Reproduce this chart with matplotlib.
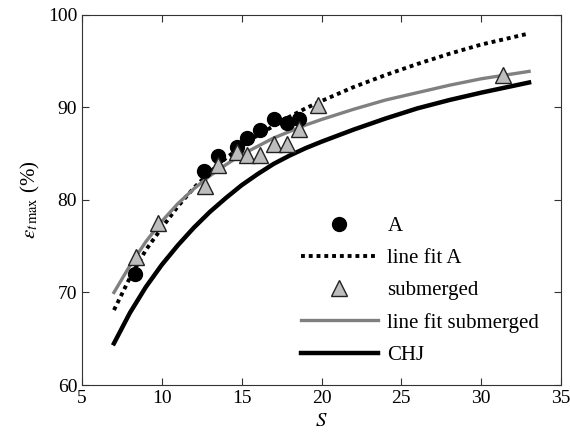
import numpy as np
import matplotlib
matplotlib.use('Agg')
import matplotlib.pyplot as plt

plt.rcParams['font.family'] = ['Liberation Serif', 'DejaVu Serif']
plt.rcParams['mathtext.fontset'] = 'stix'

# measured points
S_A = [8.32, 12.64, 13.53, 14.68, 15.31, 16.15, 17.04, 17.81, 18.59]
E_A = [72.0, 83.1, 84.75, 85.7, 86.67, 87.57, 88.76, 88.29, 88.76]

S_sub = [8.36, 9.78, 12.7, 13.53, 14.68, 15.31, 16.15, 17.04, 17.81, 18.59, 19.8, 31.34]
E_sub = [73.8, 77.5, 81.5, 83.8, 85.2, 84.9, 84.9, 86.05, 86.1, 87.7, 90.3, 93.5]

# curves
S_curve = [7, 8, 9, 10, 11, 12, 13, 14, 15, 16, 17, 18, 19, 20, 22, 24, 26, 28, 30, 33]
E_fitA = [68.1, 71.6, 74.6, 77.0, 79.3, 81.3, 83.0, 84.5, 85.8, 87.0,
          88.0, 89.0, 89.9, 90.7, 92.2, 93.5, 94.7, 95.8, 96.8, 98.0]
E_fitsub = [70.0, 72.9, 75.5, 77.7, 79.6, 81.2, 82.6, 83.8, 84.9, 85.8,
            86.7, 87.4, 88.1, 88.7, 89.8, 90.8, 91.6, 92.4, 93.1, 93.9]
E_chj = [64.5, 67.8, 70.6, 73.0, 75.1, 77.0, 78.7, 80.2, 81.6, 82.8,
         83.9, 84.8, 85.6, 86.3, 87.6, 88.8, 89.9, 90.8, 91.6, 92.7]

fig = plt.figure(figsize=(5.7, 4.4), dpi=100)
ax = fig.add_axes([0.1439, 0.125, 0.8403, 0.841])

ax.plot(S_A, E_A, 'o', color='black', markersize=10, label='A', zorder=4)
ax.plot(S_curve, E_fitA, color='black', lw=2.8, linestyle=(0, (1, 1)), label='line fit A', zorder=3)
ax.plot(S_sub, E_sub, '^', markerfacecolor='#bdbdbd', markeredgecolor='#222222',
        markeredgewidth=1.0, markersize=11, linestyle='none', label='submerged', zorder=5)
ax.plot(S_curve, E_fitsub, color='#808080', lw=2.4, label='line fit submerged', zorder=3)
ax.plot(S_curve, E_chj, color='black', lw=3.2, label='CHJ', zorder=2)

ax.set_xlim(5, 35)
ax.set_ylim(60, 100)
ax.set_xticks([5, 10, 15, 20, 25, 30, 35])
ax.set_yticks([60, 70, 80, 90, 100])
ax.tick_params(direction='in', top=True, right=True, labelsize=14, length=5, color='#333333')
for sp in ax.spines.values():
    sp.set_color('#333333')

ax.set_xlabel('$S$', fontsize=15)
ax.set_ylabel(r'$\varepsilon_{t\,\mathrm{max}}$ (%)', fontsize=15)

ax.legend(loc='upper left', bbox_to_anchor=(0.457, 0.455), frameon=False, fontsize=15,
          handlelength=3.7, handletextpad=0.45, labelspacing=0.6, borderpad=0, borderaxespad=0)

fig.savefig('out.png', dpi=100)
